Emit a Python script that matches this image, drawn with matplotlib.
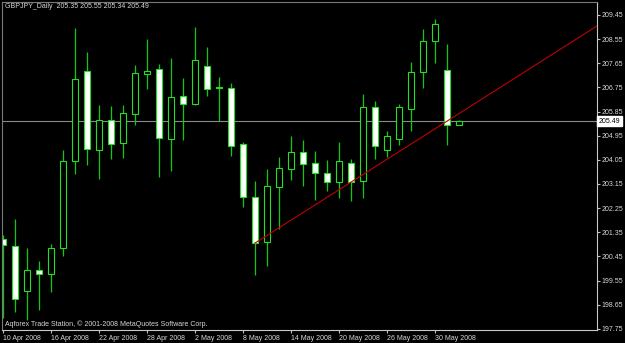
import matplotlib
matplotlib.use("Agg")
import matplotlib.pyplot as plt

plt.rcParams['font.family'] = ['Liberation Sans', 'DejaVu Sans']

# daily GBPJPY bars (open, high, low, close)
opens = [201.11, 200.83, 199.15, 199.96, 199.79, 200.77, 204.02, 207.36, 204.42, 205.53,
         204.67, 205.76, 207.25, 207.42, 204.84, 206.41, 206.14, 207.54, 206.73, 206.72,
         204.65, 202.66, 200.98, 203.05, 203.71, 204.33, 203.92, 203.55, 203.22, 203.95,
         203.25, 206.01, 204.42, 204.82, 205.96, 207.34, 208.48, 207.39, 205.35]
highs = [201.25, 201.85, 200.77, 200.28, 200.91, 204.41, 208.97, 208.07, 206.08, 206.05,
         206.11, 207.59, 208.57, 207.61, 207.84, 207.11, 208.99, 208.27, 207.14, 206.90,
         204.73, 203.26, 203.71, 204.16, 204.94, 204.79, 204.38, 204.05, 204.71, 204.08,
         206.51, 206.25, 205.13, 206.13, 207.69, 208.92, 209.29, 208.36, 205.55]
lows = [198.16, 198.39, 198.09, 198.46, 199.11, 200.47, 203.51, 203.87, 203.33, 204.07,
        204.10, 205.36, 206.70, 203.42, 203.63, 204.78, 206.10, 206.43, 205.50, 204.21,
        202.31, 199.76, 200.11, 201.47, 203.31, 203.07, 202.56, 202.87, 202.64, 202.53,
        202.64, 204.07, 204.17, 204.62, 205.14, 206.72, 207.64, 204.62, 205.34]
closes = [200.87, 198.88, 199.94, 199.80, 200.78, 204.00, 207.05, 204.45, 205.53, 204.65,
          205.79, 207.28, 207.36, 204.86, 206.38, 206.12, 207.76, 206.68, 206.74, 204.58,
          202.66, 200.94, 203.08, 203.75, 204.33, 203.91, 203.55, 203.24, 204.00, 203.22,
          206.01, 204.56, 204.93, 206.00, 207.34, 208.49, 209.10, 205.35, 205.49]

date_labels = ["10 Apr 2008", "16 Apr 2008", "22 Apr 2008", "28 Apr 2008", "2 May 2008",
               "8 May 2008", "14 May 2008", "20 May 2008", "26 May 2008", "30 May 2008"]
date_bars = [0, 4, 8, 12, 16, 20, 24, 28, 32, 36]

price_ticks = [197.75, 198.65, 199.55, 200.45, 201.35, 202.25, 203.15, 204.05,
               204.95, 205.85, 206.75, 207.65, 208.55, 209.45]

bid = 205.49
trend_bars = [21, 37]
trend_prices = [200.95, 205.49]

WICK = '#12c812'
EDGE = '#22e022'
TXT = '#d8d8d8'

fig = plt.figure(figsize=(6.25, 3.43), dpi=100, facecolor='black')
ax = fig.add_axes([2 / 625, 13 / 343, 595 / 625, 328 / 343])
ax.set_facecolor('black')

xs = list(range(len(opens)))
ax.vlines(xs, lows, highs, color=WICK, lw=0.9, zorder=1)
bottoms = [min(o, c) for o, c in zip(opens, closes)]
heights = [max(abs(c - o), 0.015) for o, c in zip(opens, closes)]
fills = ['white' if c < o else 'black' for o, c in zip(opens, closes)]
ax.bar(xs, heights, bottom=bottoms, width=0.58, color=fills, edgecolor=EDGE,
       linewidth=0.8, zorder=2)

# bid line
ax.axhline(bid, color='#8a8a8a', lw=0.8, zorder=0)

# trend line, extended to the right edge
slope = (trend_prices[1] - trend_prices[0]) / (trend_bars[1] - trend_bars[0])
x_end = 49.6
ax.plot([trend_bars[0], x_end],
        [trend_prices[0], trend_prices[0] + slope * (x_end - trend_bars[0])],
        color='#c00000', lw=0.8, zorder=3)

ax.set_xlim(-0.083, 49.5)
ax.set_ylim(197.71, 209.93)

ax.yaxis.tick_right()
ax.set_yticks(price_ticks)
ax.set_yticklabels([f"{p:.2f}" for p in price_ticks])
ax.set_xticks(date_bars)
ax.set_xticklabels(date_labels, ha='left')
ax.tick_params(axis='y', colors='#c0c0c0', labelcolor=TXT, labelsize=5,
               length=2, width=0.8, pad=1)
ax.tick_params(axis='x', colors='#c0c0c0', labelcolor=TXT, labelsize=5,
               length=2, width=0.8, pad=1.5)

for side in ['left', 'top']:
    ax.spines[side].set_color('#7a7a7a')
for side in ['right', 'bottom']:
    ax.spines[side].set_color('#c8c8c8')
for s in ax.spines.values():
    s.set_linewidth(0.8)

# bid price tag on the price scale
ax.text(1.003, bid, f"{bid:.2f}", transform=ax.get_yaxis_transform(),
        fontsize=5, color='black', va='center', ha='left',
        bbox=dict(boxstyle='square,pad=0.2', fc='white', ec='white'), clip_on=False)

fig.text(5 / 625, 1 - 7 / 343,
         "GBPJPY_Daily  205.35 205.55 205.34 205.49",
         fontsize=5, color=TXT, va='center', ha='left')
fig.text(5 / 625, 1 - 324 / 343,
         "Aqforex Trade Station, \u00a9 2001-2008 MetaQuotes Software Corp.",
         fontsize=5, color=TXT, va='center', ha='left')

fig.savefig('out.png', dpi=100, facecolor='black')
